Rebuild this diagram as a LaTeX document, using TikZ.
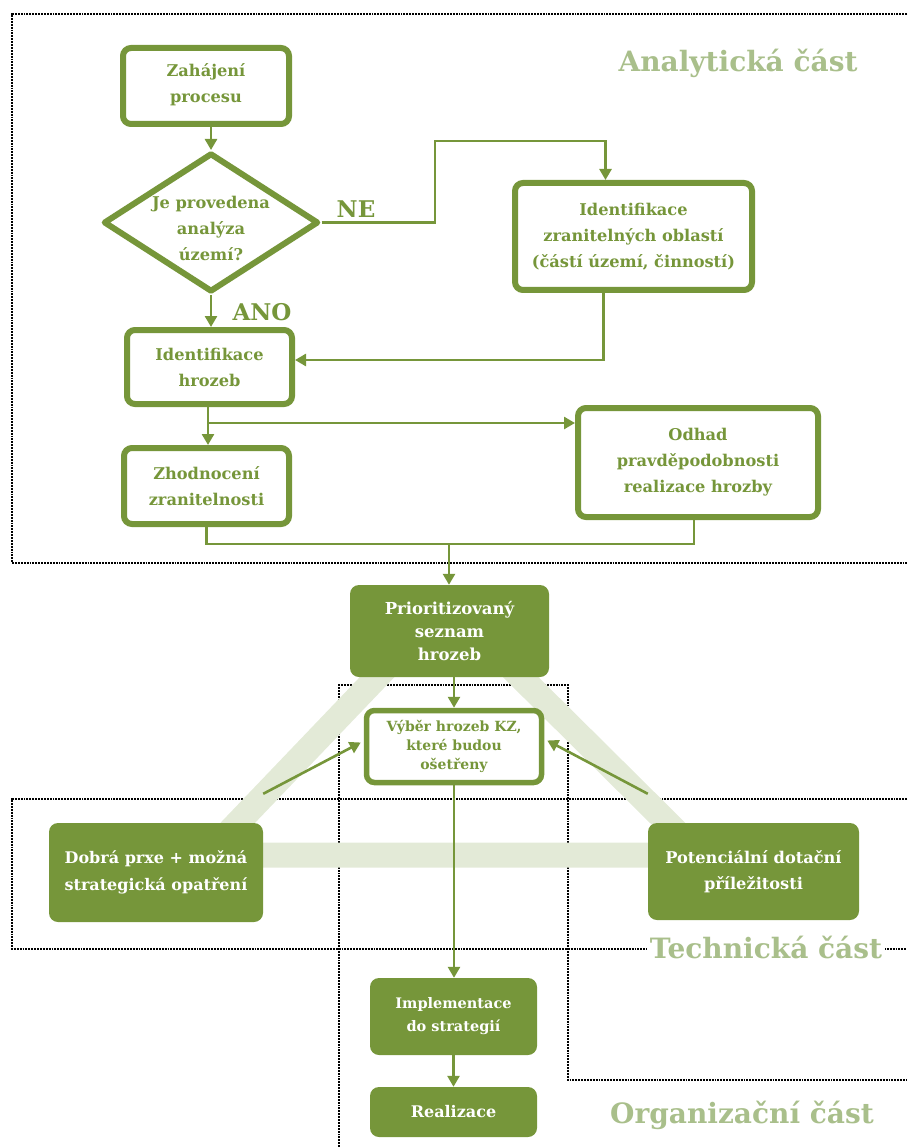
\documentclass[tikz,border=0pt]{standalone}
\usepackage{fontspec}
\setmainfont{DejaVu Serif}
\usetikzlibrary{arrows.meta,shapes.geometric,calc}
\definecolor{gr}{RGB}{118,150,58}
\definecolor{lgr}{RGB}{169,191,139}
\definecolor{bandc}{RGB}{227,234,215}
\begin{document}
\begin{tikzpicture}[x=1pt,y=-1pt,
  obox/.style={draw=gr, line width=6pt, rounded corners=8pt, fill=white, text=gr,
    font=\bfseries\fontsize{16.2}{26}\selectfont, align=center, inner sep=0pt},
  fbox/.style={fill=gr, rounded corners=9pt, text=white,
    font=\bfseries\fontsize{16.2}{26}\selectfont, align=center, inner sep=0pt},
  arr/.style={draw=gr, line width=2.6pt, -{Triangle[length=11pt,width=12pt]}},
  ln/.style={draw=gr, line width=2.6pt},
  sec/.style={text=lgr, font=\bfseries\fontsize{28}{34}\selectfont, inner sep=3pt},
  dotline/.style={densely dotted, line width=1.9pt, black}
]
\useasboundingbox (0,0) rectangle (907,1147);

% dotted section frames
\draw[dotline] (907,14) -- (12,14) -- (12,563) -- (907,563);
\draw[dotline] (907,799) -- (12,799) -- (12,949) -- (907,949);
\draw[dotline] (339,1147) -- (339,685) -- (568,685) -- (568,1080) -- (907,1080);

% light triangle band
\draw[bandc, line width=25pt, line join=round] (447,604) -- (207,855) -- (700,855) -- cycle;

% nodes
\node[obox, minimum width=166pt, minimum height=76pt, text depth=6pt] (zah) at (206,86) {Zahájení\\procesu};
\node[draw=gr, line width=6pt, line join=round, fill=white, shape=diamond, minimum width=215pt, minimum height=139pt, inner sep=0pt] (dia) at (211,222.5) {};
\node[text=gr, font=\bfseries\fontsize{16.2}{26}\selectfont, align=center] (diat) at (211,228) {Je provedena\\analýza\\území?};
\node[obox, minimum width=237pt, minimum height=107pt] (izo) at (633.5,236.5) {Identifikace\\zranitelných oblastí\\(částí území, činností)};
\node[obox, minimum width=165pt, minimum height=74pt] (ih) at (209.5,367) {Identifikace\\hrozeb};
\node[obox, minimum width=165pt, minimum height=76pt] (zh) at (206.5,486) {Zhodnocení\\zranitelnosti};
\node[obox, minimum width=240pt, minimum height=109pt] (odh) at (698,462.5) {Odhad\\pravděpodobnosti\\realizace hrozby};
\node[fbox, minimum width=199pt, minimum height=92pt, font=\bfseries\fontsize{16.5}{23}\selectfont] (prio) at (449.5,631) {Prioritizovaný\\seznam\\hrozeb};
\node[obox, line width=5.5pt, minimum width=175pt, minimum height=72pt, font=\bfseries\fontsize{14}{19}\selectfont] (vyb) at (454,746.5) {Výběr hrozeb KZ,\\které budou\\ošetřeny};
\node[fbox, minimum width=214pt, minimum height=99pt, font=\bfseries\fontsize{16}{27}\selectfont] (dob) at (156,872.5) {Dobrá prxe + možná\\strategická opatření};
\node[fbox, minimum width=211pt, minimum height=97pt, font=\bfseries\fontsize{16.2}{26}\selectfont] (pot) at (753.5,871.5) {Potenciální dotační\\příležitosti};
\node[fbox, minimum width=167pt, minimum height=77pt, font=\bfseries\fontsize{14.5}{23}\selectfont] (impl) at (453.5,1016.5) {Implementace\\do strategií};
\node[fbox, minimum width=167pt, minimum height=50pt, font=\bfseries\fontsize{16}{20}\selectfont] (real) at (453.5,1112) {Realizace};

% section labels
\node[sec] (la) at (738,63) {Analytická část};
\node[sec, fill=white] (lt) at (766,947) {Technická část};
\node[sec] (lo) at (742,1115) {Organizační část};

% decision labels
\node[text=gr, font=\bfseries\fontsize{23}{26}\selectfont] (ne) at (356,209) {NE};
\node[text=gr, font=\bfseries\fontsize{23}{26}\selectfont] (ano) at (262,312) {ANO};

% connectors
\draw[arr] (dia.north |- zah.south) -- (dia.north);
\draw[arr] (dia.east) -- (435,222.5) -- (435,141) -| ([xshift=-28pt]izo.north);
\draw[arr] (dia.south) -- (dia.south |- ih.north);
\draw[arr] ([xshift=-30pt]izo.south) |- ([yshift=7pt]ih.east);
\draw[arr] (ih.south -| 208,0) -- (208,0 |- zh.north);
\coordinate (br) at (208,423);
\draw[arr] (br) -- (br -| odh.west);
\coordinate (j) at (449,544);
\draw[ln] (zh.south) |- (j) -| ([xshift=-4pt]odh.south);
\draw[arr] (j) -- (j |- prio.north);
\draw[arr] (vyb.north |- prio.south) -- (vyb.north);
\draw[arr] (vyb.south) -- (impl.north -| vyb.south);
\draw[arr] (impl.south) -- (real.north);
\draw[arr] ([yshift=29pt]dob.north east) -- ([xshift=-3pt,yshift=4pt]vyb.west);
\draw[arr] ([yshift=29pt]pot.north west) -- ([xshift=3pt,yshift=6pt]vyb.east);
\end{tikzpicture}
\end{document}
